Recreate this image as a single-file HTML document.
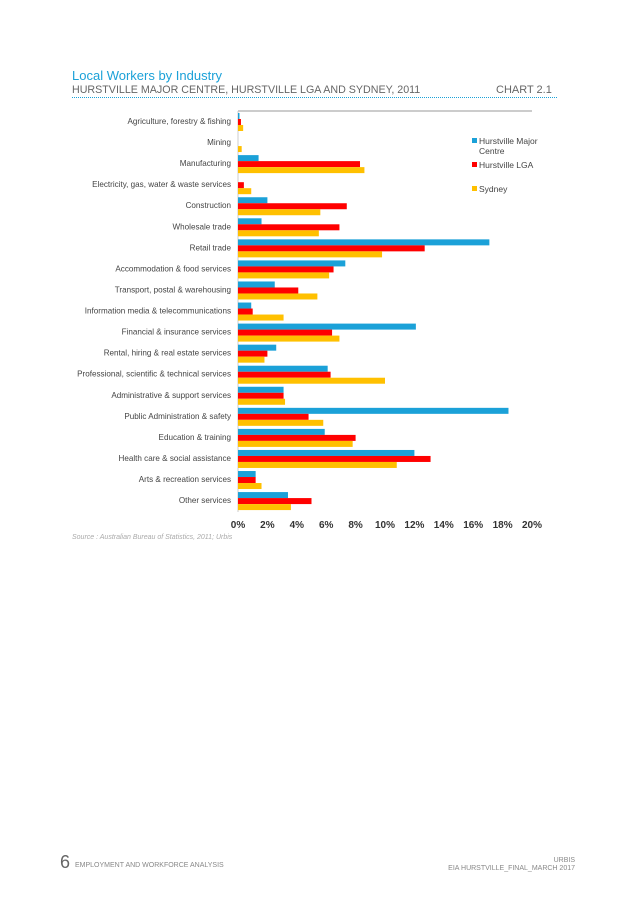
<!DOCTYPE html>
<html><head><meta charset="utf-8"><style>
body{margin:0;width:637px;height:901px;background:#fff;font-family:"Liberation Sans",sans-serif;position:relative;overflow:hidden}
.a{position:absolute;white-space:nowrap}
</style></head><body>
<div class="a" style="left:72px;top:68px;font-size:13px;color:#1ba1d8">Local Workers by Industry</div>
<div class="a" style="left:72px;top:84px;font-size:10.7px;color:#666">HURSTVILLE MAJOR CENTRE, HURSTVILLE LGA AND SYDNEY, 2011</div>
<div class="a" style="left:496px;top:84px;font-size:11px;color:#666">CHART 2.1</div>
<div class="a" style="left:72px;top:97px;width:485px;border-top:1px dotted #1ba1d8"></div>
<svg id="chart" class="a" style="left:0;top:0" width="637" height="560"></svg>
<div class="a" style="left:72px;top:534px;font-size:7px;font-style:italic;color:#aaa">Source : Australian Bureau of Statistics, 2011; Urbis</div>
<div class="a" style="left:60px;top:852px;font-size:18px;color:#666">6</div>
<div class="a" style="left:75px;top:862px;font-size:7px;color:#888">EMPLOYMENT AND WORKFORCE ANALYSIS</div>
<div class="a" style="right:62px;top:857px;font-size:7px;color:#888">URBIS</div>
<div class="a" style="right:62px;top:865px;font-size:7px;color:#888">EIA HURSTVILLE_FINAL_MARCH 2017</div>
<script>
const categories=["Agriculture, forestry & fishing","Mining","Manufacturing","Electricity, gas, water & waste services","Construction","Wholesale trade","Retail trade","Accommodation & food services","Transport, postal & warehousing","Information media & telecommunications","Financial & insurance services","Rental, hiring & real estate services","Professional, scientific & technical services","Administrative & support services","Public Administration & safety","Education & training","Health care & social assistance","Arts & recreation services","Other services"];
const hmc=[0.1,0,1.4,0,2.0,1.6,17.1,7.3,2.5,0.9,12.1,2.6,6.1,3.1,18.4,5.9,12.0,1.2,3.4];
const lga=[0.2,0,8.3,0.4,7.4,6.9,12.7,6.5,4.1,1.0,6.4,2.0,6.3,3.1,4.8,8.0,13.1,1.2,5.0];
const sydney=[0.35,0.25,8.6,0.9,5.6,5.5,9.8,6.2,5.4,3.1,6.9,1.8,10.0,3.2,5.8,7.8,10.8,1.6,3.6];
const ticks=[0,2,4,6,8,10,12,14,16,18,20];
const seriesNames=["Hurstville Major Centre","Hurstville LGA","Sydney"];
const svg=document.getElementById('chart');const NS="http://www.w3.org/2000/svg";
const x0=238,x1=532,xScale=v=>x0+(v/20)*(x1-x0);
const yCat=i=>111+i*21.06;
function mk(t,a){const e=document.createElementNS(NS,t);for(const k in a)e.setAttribute(k,a[k]);svg.appendChild(e);return e;}
let l=mk('line',{x1:x0,y1:111,x2:x1,y2:111,stroke:'#999','stroke-width':1});


let la=mk('line',{x1:x0,y1:111,x2:x0,y2:512,stroke:'#ccc','stroke-width':1});


const cols=['#1ba1d8','#ff0000','#ffc000'];
const data=[hmc,lga,sydney];
categories.forEach((c,i)=>{
 const t=mk('text',{x:231,y:yCat(i)+13,'text-anchor':'end','font-size':'8.1',fill:'#444'});t.textContent=c;
 
 
 data.forEach((s,j)=>{
  const r=mk('rect',{x:x0,y:yCat(i)+2+j*6,width:Math.max(0,xScale(s[i])-x0),height:6,fill:cols[j]});
  
  
 });
});
ticks.forEach(v=>{
 const t=mk('text',{x:xScale(v),y:528,'text-anchor':'middle','font-size':'10','font-weight':'bold',fill:'#333'});t.textContent=v+'%';
 
 
});
const ly=[141,165,189];
seriesNames.forEach((n,j)=>{
 const r=mk('rect',{x:472,y:ly[j]-3,width:5,height:5,fill:cols[j]});
 
 
 const t=mk('text',{x:479,y:ly[j]+3,'font-size':'8.5',fill:'#444'});
 
 
 if(j===0){t.textContent='Hurstville Major';const t2=mk('text',{x:479,y:ly[j]+13,'font-size':'8.5',fill:'#444'});t2.textContent='Centre';
 
 }
 else t.textContent=n;
});
</script>
</body></html>
